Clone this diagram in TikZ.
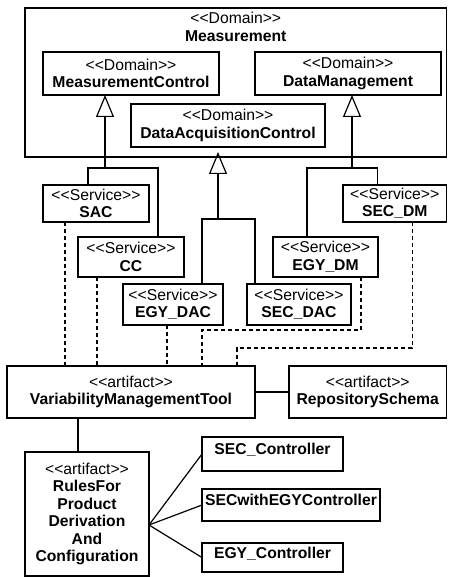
\documentclass[tikz,border=0pt]{standalone}
\usepackage{fontspec}
\setmainfont{Liberation Sans}
\usetikzlibrary{arrows.meta,calc}
\tikzset{
	umlbox/.style={draw, outer sep=0, inner sep=2pt, align=center},
	ctrlbox/.style={umlbox, anchor=north west, inner xsep=3pt, inner ysep=6pt, text height=11pt, text depth=11pt},
	gen/.style={-{Triangle[open,width=18pt,length=22pt]}},
	dep/.style={dash pattern=on 4pt off 3pt, line width=1.5pt}
}
\newcommand{\stereo}[1]{<\kern0pt<#1>\kern0pt>}

\begin{document}
\begin{tikzpicture}[x=1pt, y=-1pt, line width=1.2pt,
		font=\fontsize{15.7}{17.5}\selectfont]
	\useasboundingbox (0,0) rectangle (448,577);
	% domains
	\node[umlbox, minimum width=421.5pt, minimum height=149pt] (meas) at (235.75,82.5) {};
	\node[align=center, anchor=north, inner sep=0] (meastitle) at ([yshift=-4pt]meas.north) {\stereo{Domain}\\\textbf{Measurement}};
	\node[umlbox, minimum width=176pt, minimum height=43pt] (mc) at (131,73.5) {\stereo{Domain}\\\textbf{MeasurementControl}};
	\node[umlbox, minimum width=186pt, minimum height=43pt] (dm) at (348,73.5) {\stereo{Domain}\\\textbf{DataManagement}};
	\node[umlbox, minimum width=194pt, minimum height=43pt] (dac) at (228,125.5) {\stereo{Domain}\\\textbf{DataAcquisitionControl}};
	
	% services
	\node[umlbox, minimum width=106pt, minimum height=37pt] (sac) at (96,203.5) {\stereo{Service}\\\textbf{SAC}};
	\node[umlbox, minimum width=106pt, minimum height=40pt] (cc) at (131,257) {\stereo{Service}\\\textbf{CC}};
	\node[umlbox, minimum width=100pt, minimum height=41pt] (egydac) at (173,304.5) {\stereo{Service}\\\textbf{EGY\_DAC}};
	\node[umlbox, minimum width=104pt, minimum height=41pt] (secdac) at (299,304.5) {\stereo{Service}\\\textbf{SEC\_DAC}};
	\node[umlbox, minimum width=105pt, minimum height=40pt] (egydm) at (325.5,257) {\stereo{Service}\\\textbf{EGY\_DM}};
	\node[umlbox, minimum width=103.5pt, minimum height=37pt] (secdm) at (394.75,203.5) {\stereo{Service}\\\textbf{SEC\_DM}};
	
	% artifacts
	\node[umlbox, minimum width=248pt, minimum height=52pt] (vmt) at (131,392) {\stereo{artifact}\\\textbf{VariabilityManagementTool}};
	\node[umlbox, minimum width=157.5pt, minimum height=52pt] (rs) at (367.75,392) {\stereo{artifact}\\\textbf{RepositorySchema}};
	\node[umlbox, minimum width=124pt, minimum height=124pt] (rules) at (87,514) {\stereo{artifact}\\\textbf{RulesFor}\\\textbf{Product}\\\textbf{Derivation}\\\textbf{And}\\\textbf{Configuration}};
	
	% controllers
	\node[ctrlbox, minimum width=141pt] (secc) at (202,437) {\textbf{SEC\_Controller}};
	\node[ctrlbox, minimum width=178pt, inner ysep=5pt] (secegy) at (202,489) {\textbf{SECwithEGYController}};
	\node[ctrlbox, minimum width=141pt, inner ysep=4pt, text depth=10pt] (egyc) at (202,543) {\textbf{EGY\_Controller}};
	
	% generalizations
	\coordinate (mcj) at (105,168);
	\draw[gen] (mcj) -- (mcj |- mc.south);
	\draw ([xshift=-8pt]sac.north) |- (mcj) -| ([xshift=27pt]cc.north);
	\coordinate (dacj) at (218,219);
	\draw[gen, shorten >=5pt] (dacj) -- (dacj |- dac.south);
	\draw ([xshift=29pt]egydac.north) |- (dacj) -| ([xshift=-44pt]secdac.north);
	\coordinate (dmj) at (352,168);
	\draw[gen] (dmj) -- (dmj |- dm.south);
	\draw ([xshift=-18.5pt]egydm.north) |- (dmj) -| ([xshift=-17.5pt]secdm.north);
	
	% dependencies
	\path (sac.south) ++(-31,0) coordinate (sacd);
	\path (cc.south) ++(-34,0) coordinate (ccd);
	\path (egydac.south) ++(-6,0) coordinate (egydacd);
	\path (egydm.south) ++(35.5,0) coordinate (egydmd);
	\path (secdm.south) ++(17.5,0) coordinate (secdmd);
	\coordinate (dj1) at (202,330);
	\coordinate (dj2) at (237,348);
	\draw[dep] (sacd) -- (sacd |- vmt.north);
	\draw[dep] (ccd) -- (ccd |- vmt.north);
	\draw[dep] (egydacd) -- (egydacd |- vmt.north);
	\draw[dep] (egydmd) |- (dj1) -- (dj1 |- vmt.north);
	\draw[dep] (secdmd) |- (dj2) -- (dj2 |- vmt.north);
	
	% associations
	\draw (vmt.east) -- (rs.west);
	\path (rules.north) ++(-9,0) coordinate (rulesn);
	\draw (rulesn) -- (rulesn |- vmt.south);
	\path (rules.east) ++(0,11) coordinate (rulese);
	\foreach \c in {secc,secegy,egyc}
		\draw (rulese) -- (\c.west);
\end{tikzpicture}
\end{document}
